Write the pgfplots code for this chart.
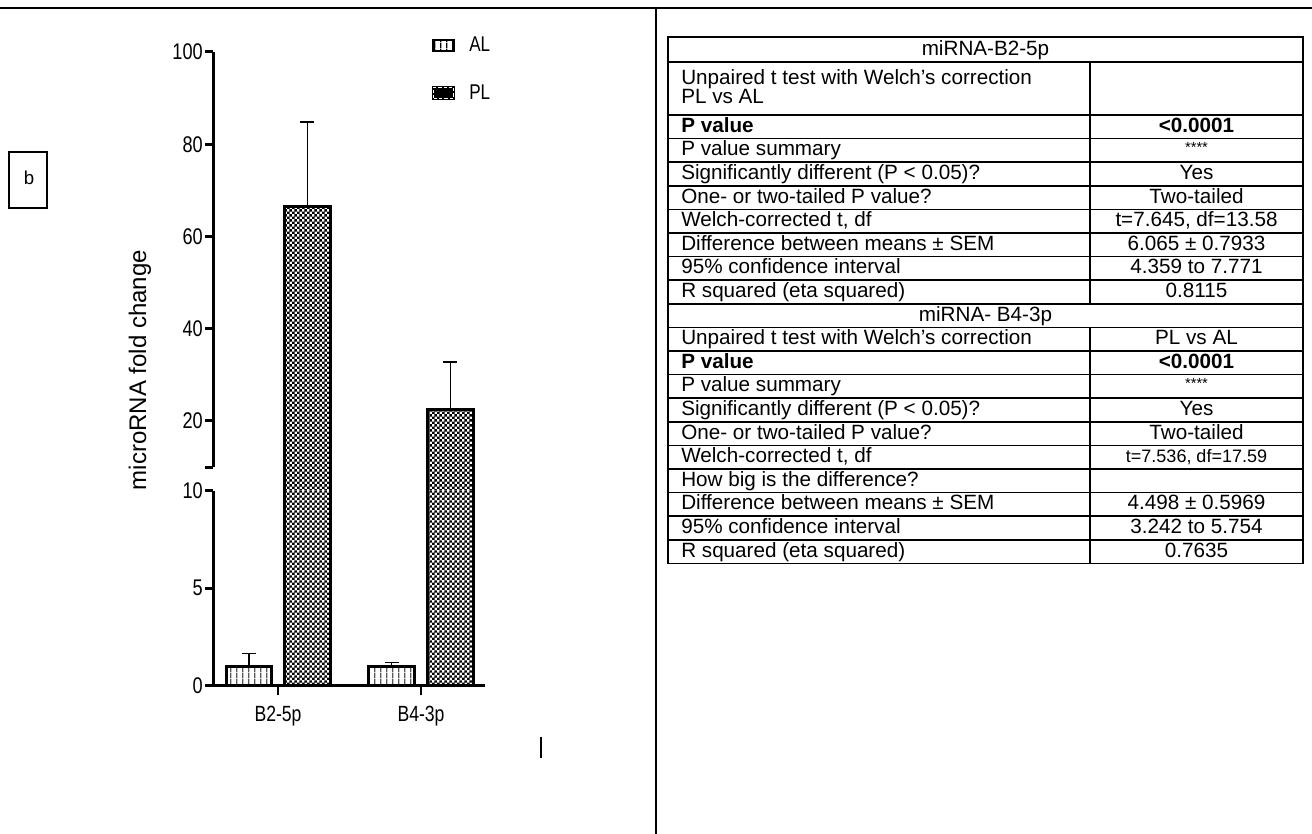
\documentclass[border=0pt]{standalone}
\usepackage{pgfplots}
\pgfplotsset{compat=1.18}
\usepackage{pgfplotstable}
\usepackage{fontspec}
\setmainfont{Liberation Sans}
\newfontfamily\narrowfont[FakeStretch=0.8]{Liberation Sans}
\usetikzlibrary{patterns,patterns.meta}

\tikzdeclarepattern{
  name=mychecker, type=uncolored,
  bounding box={(0,0) and (4pt,4pt)},
  tile size={(4pt,4pt)},
  code={\pgfpathrectangle{\pgfpointorigin}{\pgfqpoint{2.1pt}{2.1pt}}
        \pgfpathrectangle{\pgfqpoint{2pt}{2pt}}{\pgfqpoint{2pt}{2pt}}
        \pgfusepath{fill}}
}
\tikzdeclarepattern{
  name=myvlines, type=uncolored,
  bounding box={(0,0) and (4.5pt,4.5pt)},
  tile size={(4.5pt,4.5pt)},
  code={\pgfpathrectangle{\pgfqpoint{1.75pt}{0pt}}{\pgfqpoint{1.1pt}{4.5pt}}
        \pgfusepath{fill}}
}

% x positions: groups at 0 (B2-5p) and 1 (B4-3p); AL left of centre, PL right
\pgfplotstableread{
xAL xPL AL ALerr PL PLerr
-0.203 0.206 1.0 0.65 66.5 18.3
0.794 1.206 1.0 0.18 22.5 10.3
}\datatable

\begin{document}
\begin{tikzpicture}[x=0.75pt,y=0.75pt]
\path[use as bounding box] (0,0) rectangle (1312,834);
% page frame lines
\draw[line width=1.4pt] (0,826) -- (1312,826);
\draw[line width=1.4pt] (656,826) -- (656,0);
\draw[line width=0.9pt] (541,97) -- (541,76);
% panel label
\draw[line width=1.1pt] (9,682) rectangle (47,626);
\node[font=\fontsize{14}{14}\selectfont] at (29,656) {b};
% y label
\node[rotate=90, font=\fontsize{18}{18}\selectfont] at (140,464) {microRNA fold change};

% ---------- upper axis (10-100), extends below its visible part ----------
\begin{axis}[
  at={(159.75pt,206pt)}, anchor=south west,
  scale only axis, width=204pt, height=380.5pt,
  xmin=-0.4545, xmax=1.4476, ymin=-10, ymax=100,
  axis x line=none, axis y line*=left,
  y axis line style={draw=none},
  clip mode=individual,
  ytick={10,20,40,60,80,100},
  yticklabels={,20,40,60,80,100},
  xtick=\empty,
  tick align=outside,
  major tick length=6pt,
  tick style={line width=2.25pt, black},
  ticklabel style={font=\narrowfont\fontsize{17}{17}\selectfont},
  /pgf/number format/assume math mode=true,
  yticklabel style={inner sep=1.5pt},
  legend style={at={(0.805,1.035)}, anchor=north west, draw=none, fill=none,
    font=\narrowfont\fontsize{16}{16}\selectfont, row sep=19pt, inner sep=0pt,
    /tikz/every odd column/.append style={column sep=9pt}},
  legend cell align=left,
  legend image code/.code={\draw[#1] (0pt,-4.2pt) rectangle (15pt,4.2pt);},
]
\addlegendimage{draw=black, line width=1.8pt, pattern=myvlines, pattern color=black}
\addlegendentry{AL}
\addlegendimage{draw=black, line width=1.8pt, fill=black, postaction={draw=white, line width=1pt, dash pattern=on 2.5pt off 1.5pt, shorten >=3pt, shorten <=3pt}}
\addlegendentry{PL}
\addplot[ybar, bar width=34pt, bar shift=0pt, draw=black, line width=2.25pt,
  pattern=mychecker, pattern color=black,
  error bars/.cd, y dir=plus, y explicit,
  error bar style={line width=1.1pt, black},
  error mark options={rotate=90, mark size=5.25pt, line width=1.1pt, black}]
  table[x=xPL, y=PL, y error=PLerr] {\datatable};
\draw[line width=2.25pt] (axis cs:-0.4545,10) -- (axis cs:-0.4545,100);
\end{axis}

% ---------- lower axis (0-10), drawn on top ----------
\begin{axis}[
  at={(159.75pt,111.375pt)}, anchor=south west,
  scale only axis, width=204pt, height=145.9pt,
  xmin=-0.4545, xmax=1.4476, ymin=0, ymax=10,
  axis lines*=left,
  axis line style={line width=2.25pt, black},
  clip mode=individual,
  ytick={0,5,10},
  xtick=\empty,
  extra x ticks={0,1},
  extra x tick labels={B2-5p,B4-3p},
  extra x tick style={major tick length=7.5pt, major tick style={line width=1.2pt, black}},
  tick align=outside,
  major tick length=6pt,
  tick style={line width=2.25pt, black},
  ticklabel style={font=\narrowfont\fontsize{17}{17}\selectfont},
  /pgf/number format/assume math mode=true,
  yticklabel style={inner sep=1.5pt},
  xticklabel style={inner sep=4pt, yshift=-4pt, font=\narrowfont\fontsize{16.5}{16.5}\selectfont},
]
\addplot[ybar, bar width=34pt, bar shift=0pt, draw=black, line width=2.25pt,
  preaction={fill=white},
  pattern=myvlines, pattern color=black!65,
  error bars/.cd, y dir=plus, y explicit,
  error bar style={line width=1.1pt, black},
  error mark options={rotate=90, mark size=5.25pt, line width=1.1pt, black}]
  table[x=xAL, y=AL, y error=ALerr] {\datatable};
\addplot[ybar, bar width=34pt, bar shift=0pt, draw=black, line width=2.25pt,
  preaction={fill=white},
  pattern=mychecker, pattern color=black]
  table[x=xPL, y=PL] {\datatable};
\draw[line width=2.25pt] (rel axis cs:0,0) -- ++(-6pt,0);
\end{axis}

% ---------- table ----------
\begin{scope}[line width=1.1pt]
\draw (668,797) rectangle (1303,270.6);
\foreach \b in {62,115,138.6,162.2,185.8,209.4,233.0,256.6,280.2,303.8,327.4,351.0,374.6,398.2,421.8,445.4,469.0,492.6,516.2,539.8}
  \draw (668,834-\b) -- (1303,834-\b);
\draw (1090,834-62) -- (1090,834-303.8);
\draw (1090,834-327.4) -- (1090,834-563.4);
\end{scope}
\begin{scope}[font=\fontsize{15.5}{17}\selectfont, inner sep=0pt, yshift=-1.5pt]
\node[anchor=mid] at (985.5,834-49.5) {miRNA-B2-5p};
\node[anchor=mid west] at (681,834-79) {Unpaired t test with Welch's correction};
\node[anchor=mid west] at (681,834-98) {PL vs AL};
\node[anchor=mid west, font=\fontsize{15.5}{17}\selectfont\bfseries] at (681,834-126.8) {P value};
\node[anchor=mid, font=\fontsize{15.5}{17}\selectfont\bfseries] at (1196.5,834-126.8) {<0.0001};
\node[anchor=mid west] at (681,834-150.4) {P value summary};
\node[anchor=mid, font=\fontsize{11}{11}\selectfont] at (1196.5,834-147) {****};
\node[anchor=mid west] at (681,834-174) {Significantly different (P < 0.05)?};
\node[anchor=mid] at (1196.5,834-174) {Yes};
\node[anchor=mid west] at (681,834-197.6) {One- or two-tailed P value?};
\node[anchor=mid] at (1196.5,834-197.6) {Two-tailed};
\node[anchor=mid west] at (681,834-221.2) {Welch-corrected t, df};
\node[anchor=mid] at (1196.5,834-221.2) {t=7.645, df=13.58};
\node[anchor=mid west] at (681,834-244.8) {Difference between means ± SEM};
\node[anchor=mid] at (1196.5,834-244.8) {6.065 ± 0.7933};
\node[anchor=mid west] at (681,834-268.4) {95\% confidence interval};
\node[anchor=mid] at (1196.5,834-268.4) {4.359 to 7.771};
\node[anchor=mid west] at (681,834-292) {R squared (eta squared)};
\node[anchor=mid] at (1196.5,834-292) {0.8115};
\node[anchor=mid] at (985.5,834-315.6) {miRNA- B4-3p};
\node[anchor=mid west] at (681,834-339.2) {Unpaired t test with Welch's correction};
\node[anchor=mid] at (1196.5,834-339.2) {PL vs AL};
\node[anchor=mid west, font=\fontsize{15.5}{17}\selectfont\bfseries] at (681,834-362.8) {P value};
\node[anchor=mid, font=\fontsize{15.5}{17}\selectfont\bfseries] at (1196.5,834-362.8) {<0.0001};
\node[anchor=mid west] at (681,834-386.4) {P value summary};
\node[anchor=mid, font=\fontsize{11}{11}\selectfont] at (1196.5,834-383) {****};
\node[anchor=mid west] at (681,834-410) {Significantly different (P < 0.05)?};
\node[anchor=mid] at (1196.5,834-410) {Yes};
\node[anchor=mid west] at (681,834-433.6) {One- or two-tailed P value?};
\node[anchor=mid] at (1196.5,834-433.6) {Two-tailed};
\node[anchor=mid west] at (681,834-457.2) {Welch-corrected t, df};
\node[anchor=mid, font=\fontsize{13.5}{15}\selectfont] at (1196.5,834-457.2) {t=7.536, df=17.59};
\node[anchor=mid west] at (681,834-480.8) {How big is the difference?};
\node[anchor=mid west] at (681,834-504.4) {Difference between means ± SEM};
\node[anchor=mid] at (1196.5,834-504.4) {4.498 ± 0.5969};
\node[anchor=mid west] at (681,834-528) {95\% confidence interval};
\node[anchor=mid] at (1196.5,834-528) {3.242 to 5.754};
\node[anchor=mid west] at (681,834-551.6) {R squared (eta squared)};
\node[anchor=mid] at (1196.5,834-551.6) {0.7635};
\end{scope}
\end{tikzpicture}
\end{document}
